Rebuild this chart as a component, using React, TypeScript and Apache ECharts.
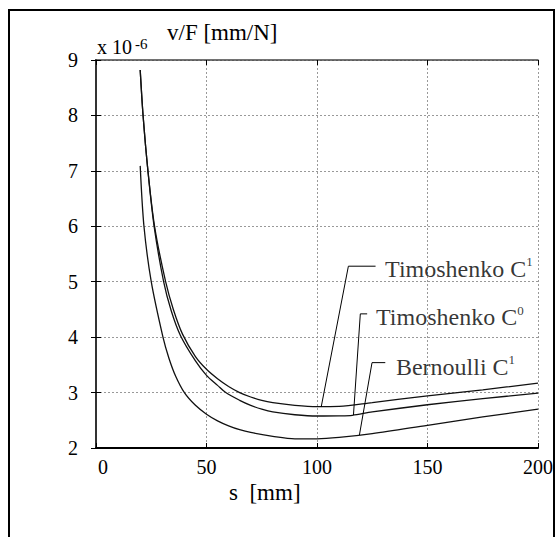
import React, { useEffect, useRef } from "react";
import * as echarts from "echarts";

// Timoshenko C1
const sC1 = [20, 21.3, 23.5, 26.5, 31.5, 35, 39.2, 45, 50, 55, 60, 65, 70, 75, 80, 90, 100, 110, 125, 150, 175, 200];
const vC1 = [8.82, 8.0, 7.0, 6.0, 5.0, 4.5, 4.05, 3.65, 3.42, 3.25, 3.11, 3.0, 2.92, 2.86, 2.82, 2.77, 2.745, 2.75, 2.82, 2.94, 3.05, 3.17];
// Timoshenko C0
const sC0 = [20, 21.3, 23.5, 26.3, 30.6, 34, 38.2, 45, 50, 55, 58.7, 65, 70, 75, 80, 90, 100, 110, 116, 125, 150, 175, 200];
const vC0 = [8.82, 8.0, 7.0, 6.0, 5.0, 4.48, 4.03, 3.57, 3.31, 3.13, 3.0, 2.86, 2.77, 2.7, 2.65, 2.6, 2.577, 2.58, 2.59, 2.65, 2.78, 2.89, 2.99];
// Bernoulli C1
const sB = [20, 21.7, 25, 30.3, 33, 36, 40, 45, 50, 55, 60, 65, 70, 80, 90, 100, 110, 125, 150, 175, 200];
const vB = [7.09, 6.0, 5.0, 4.0, 3.62, 3.3, 3.0, 2.77, 2.61, 2.49, 2.4, 2.33, 2.28, 2.21, 2.165, 2.165, 2.19, 2.26, 2.41, 2.56, 2.7];

const xTicks = [0, 50, 100, 150, 200];
const yTicks = [2, 3, 4, 5, 6, 7, 8, 9];

// annotation leaders (data coords) and label anchors
const leaderC1 = [[101.9, 2.74], [114.2, 5.28], [126.5, 5.28]];
const leaderC0 = [[116.5, 2.595], [119.6, 4.42], [122.7, 4.42]];
const leaderB = [[119.2, 2.235], [124.9, 3.54], [130.9, 3.54]];
const labelNames = ["Timoshenko C", "Timoshenko C", "Bernoulli C"];
const labelSup = ["1", "0", "1"];
const labelPos = [[130.8, 5.23], [126.7, 4.36], [135.7, 3.47]];

const FONT = "Liberation Serif";

export default function App() {
  const ref = useRef<HTMLDivElement>(null);
  useEffect(() => {
    if (!ref.current) return;
    const chart = echarts.init(ref.current, null, { renderer: "svg" });
    const zip = (s: number[], v: number[]) => s.map((x, i) => [x, v[i]]);
    const curve = (name: string, data: number[][]) => ({
      name,
      type: "line",
      data,
      showSymbol: false,
      symbol: "none",
      smooth: 0.3,
      lineStyle: { color: "#111", width: 1.3 },
      z: 3,
    });
    const leader = (data: number[][]) => ({
      type: "line",
      data,
      symbol: "none",
      lineStyle: { color: "#000", width: 1 },
      z: 4,
    });
    const rich = {
      a: { fontFamily: FONT, fontSize: 24, color: "#000", lineHeight: 27 },
      s: { fontFamily: FONT, fontSize: 13, color: "#000", lineHeight: 13, verticalAlign: "top" },
    };
    chart.setOption({
      animation: false,
      backgroundColor: "#fff",
      textStyle: { fontFamily: FONT },
      grid: { left: 96, top: 60, right: 15, bottom: 89 },
      xAxis: [
        {
          type: "value",
          min: 0,
          max: 200,
          interval: 50,
          position: "bottom",
          axisLine: { lineStyle: { color: "#000", width: 2 } },
          axisTick: { inside: true, length: 5, lineStyle: { color: "#000" } },
          splitLine: { show: true, lineStyle: { color: "#999", type: [2, 2], width: 1 } },
          axisLabel: {
            margin: 9,
            fontFamily: FONT,
            fontSize: 20,
            color: "#000",
            formatter: (v: number) => (v === 0 ? "{z|0}" : String(v)),
            rich: { z: { fontFamily: FONT, fontSize: 20, color: "#000", padding: [0, 0, 0, 14] } },
          },
          data: xTicks,
        },
        {
          type: "value",
          min: 0,
          max: 200,
          interval: 50,
          position: "top",
          axisLine: { show: true, lineStyle: { color: "#444", width: 1.5 } },
          axisTick: { inside: true, length: 5, lineStyle: { color: "#000" } },
          axisLabel: { show: false },
          splitLine: { show: false },
        },
      ],
      yAxis: [
        {
          type: "value",
          min: 2,
          max: 9,
          interval: 1,
          axisLine: { show: true, lineStyle: { color: "#000", width: 2 } },
          axisTick: { show: true, inside: true, length: 5, lineStyle: { color: "#000" } },
          splitLine: { show: true, lineStyle: { color: "#999", type: [2, 2], width: 1 } },
          axisLabel: { margin: 18, fontFamily: FONT, fontSize: 20, color: "#000" },
          data: yTicks,
        },
        {
          type: "value",
          min: 2,
          max: 9,
          interval: 1,
          position: "right",
          axisLine: { show: true, lineStyle: { color: "#444", width: 1.5 } },
          axisTick: { show: true, inside: true, length: 5, lineStyle: { color: "#000" } },
          axisLabel: { show: false },
          splitLine: { show: false },
        },
      ],
      series: [
        curve("Timoshenko C1", zip(sC1, vC1)),
        curve("Timoshenko C0", zip(sC0, vC0)),
        curve("Bernoulli C1", zip(sB, vB)),
        leader(leaderC1),
        leader(leaderC0),
        leader(leaderB),
        {
          type: "scatter",
          symbolSize: 0,
          z: 5,
          data: labelPos.map((p, i) => ({
            value: p,
            label: {
              show: true,
              position: "right",
              distance: 0,
              formatter: `{a|${labelNames[i]}}{s|${labelSup[i]}}`,
              rich,
            },
          })),
        },
      ],
      graphic: [
        {
          type: "rect",
          shape: { x: 9, y: 10, width: 545, height: 560 },
          style: { fill: "none", stroke: "#000", lineWidth: 2 },
          z: 100,
        },
        {
          type: "text",
          x: 97,
          y: 47,
          style: {
            text: "{a|x 10}{s|-6}",
            verticalAlign: "middle",
            rich: {
              a: { fontFamily: FONT, fontSize: 20, fill: "#000", lineHeight: 22 },
              s: { fontFamily: FONT, fontSize: 15, fill: "#000", lineHeight: 15, verticalAlign: "top", padding: [0, 0, 0, 3] },
            },
          },
          z: 10,
        },
        {
          type: "text",
          x: 167,
          y: 32,
          style: { text: "v/F [mm/N]", fontFamily: FONT, fontSize: 23, fill: "#000", verticalAlign: "middle" },
          z: 10,
        },
        {
          type: "text",
          x: 229,
          y: 492,
          style: { text: "s  [mm]", fontFamily: FONT, fontSize: 23, fill: "#000", verticalAlign: "middle" },
          z: 10,
        },
      ],
    });
    return () => chart.dispose();
  }, []);
  return (
    <div
      ref={ref}
      style={{ position: "fixed", left: 0, top: 0, width: 556, height: 537 }}
    />
  );
}
